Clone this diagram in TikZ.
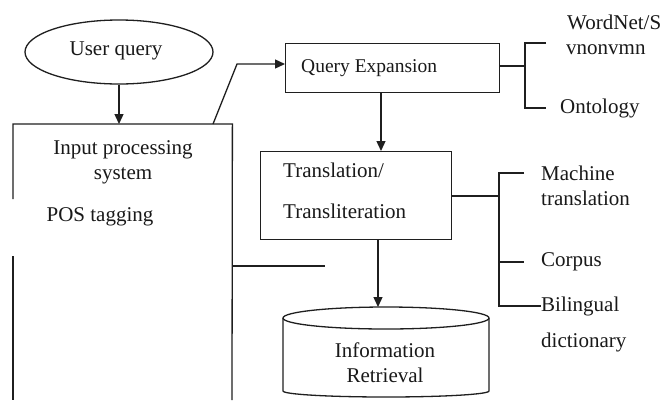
\documentclass[tikz,border=0pt]{standalone}
\usepackage{fontspec}
\setmainfont{Liberation Serif}
\usetikzlibrary{arrows.meta,shapes.geometric}
\begin{document}
\begin{tikzpicture}[x=1pt,y=-1pt,
  ln/.style={line width=1.3pt,draw=black!88},
  arr/.style={ln,-{Triangle[length=10pt,width=9pt]}},
  txt/.style={font=\fontsize{21}{25}\selectfont,text=black!90,inner sep=0pt},
  smalltxt/.style={font=\fontsize{19.5}{23}\selectfont,text=black!90,inner sep=0pt},
  box/.style={ln,rectangle,inner sep=0pt,anchor=north west}]
\useasboundingbox (0,0) rectangle (666,400);
\fill[white] (0,0) rectangle (666,400);

% user query
\node[ln,ellipse,minimum width=188pt,minimum height=64pt,inner sep=0pt] (uq) at (119,52) {};
\node[txt] (uqt) at (116,51) {User query};

% input processing system (open at the bottom, left edge broken)
\node[inner sep=0pt,minimum width=219pt,minimum height=276pt,anchor=north west] (ips) at (13,124) {};
\coordinate (ipsbl) at (13,400);
\coordinate (ipsbr) at (232,400);
\draw[ln] (13,199) -- (ips.north west) -- (ips.north east) -- (ipsbr);
\draw[ln] (13,256) -- (ipsbl);
\node[txt] (ipt1) at (123,150) {Input processing};
\node[txt] (ipt2) at (123,176) {system};
\node[txt] (pos) at (100,217) {POS tagging};
\coordinate (ipsout) at (232,266);
\coordinate (ipsend) at (325,266);
\draw[ln] (ipsout) -- (ipsend);

% query expansion
\node[box,minimum width=214pt,minimum height=49pt] (qe) at (285,43) {};
\node[smalltxt,anchor=west] (qet) at (301,68) {Query Expansion};
\coordinate (qs) at (213,124);
\coordinate (qbend) at (237,64);
\draw[arr] (qs) -- (qbend) -- (qbend -| qe.west);
\draw[arr] (uq.south) -- (uq.south |- ips.north);

% resources of query expansion
\coordinate (qeout) at (499,66);
\coordinate (qej) at (525,66);
\coordinate (qetop) at (525,43);
\coordinate (qebot) at (525,108);
\coordinate (wnend) at (546,43);
\coordinate (onend) at (546,108);
\draw[ln] (qeout) -- (qej);
\draw[ln] (wnend) -- (qetop) -- (qebot) -- (onend);
\node[txt,anchor=west] (wn1) at (567,22) {WordNet/S};
\node[txt,anchor=west] (wn2) at (566,50) {vnonvmn};
\node[txt,anchor=west] (onto) at (560,108) {Ontology};

% translation / transliteration
\node[box,minimum width=191pt,minimum height=88pt] (tr) at (260,151) {};
\node[txt,anchor=west] (trt1) at (283,170) {Translation/};
\node[txt,anchor=west] (trt2) at (283,211) {Transliteration};
\draw[arr] (381,92) -- (381,151);

% resources of translation
\coordinate (trout) at (451,196);
\coordinate (trj) at (499,196);
\coordinate (trtop) at (499,173);
\coordinate (trcor) at (499,262);
\coordinate (trbot) at (499,306);
\draw[ln] (trout) -- (trj);
\draw[ln] (524,173) -- (trtop) -- (trbot) -- (541,306);
\draw[ln] (trcor) -- (524,262);
\node[txt,anchor=west] (mt1) at (541,173) {Machine};
\node[txt,anchor=west] (mt2) at (541,198) {translation};
\node[txt,anchor=west] (corp) at (541,262) {Corpus};
\node[txt,anchor=west] (bil1) at (541,306) {Bilingual};
\node[txt,anchor=west] (bil2) at (541,342) {dictionary};

% information retrieval store
\node[inner sep=0pt,minimum width=206pt,minimum height=91pt,anchor=north] (ir) at (386,307) {};
\draw[ln] (386,318) ellipse [x radius=103pt,y radius=11pt];
\draw[ln] (283,318) -- (283,391) arc[start angle=180,end angle=360,x radius=103pt,y radius=6pt] -- (489,318);
\node[txt] (irt1) at (385,350) {Information};
\node[txt] (irt2) at (385,375) {Retrieval};
\draw[arr] (378,239) -- (ir.north -| 378,0);
\end{tikzpicture}
\end{document}
